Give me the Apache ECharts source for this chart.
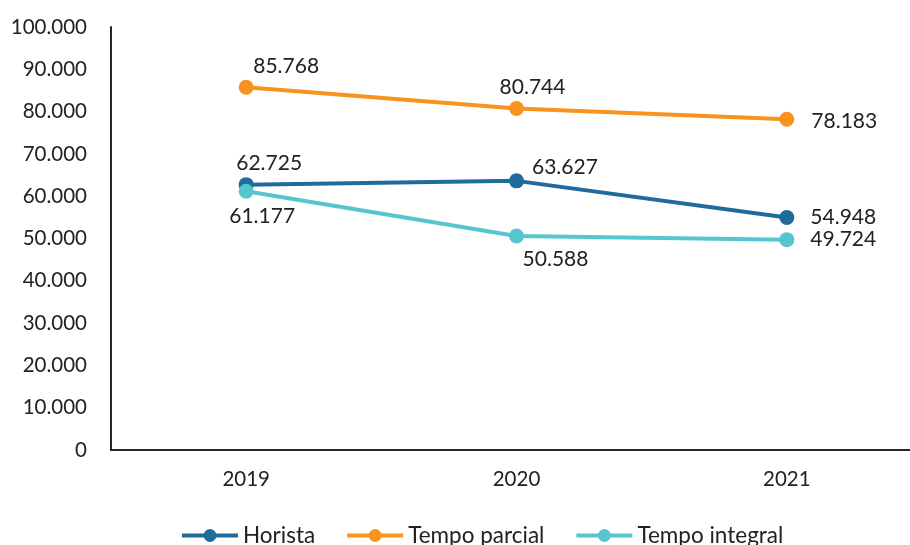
<!DOCTYPE html>
<html>
<head>
<meta charset="utf-8">
<script src="https://cdn.jsdelivr.net/npm/echarts@6/dist/echarts.min.js"></script>
<style>
  html, body { margin: 0; padding: 0; background: #fff; }
  #chart-container { width: 910px; height: 545px; }
</style>
</head>
<body>
<div id="chart-container"></div>
<script>
var anos = ['2019', '2020', '2021'];
var horista = [62725, 63627, 54948];
var tempoParcial = [85768, 80744, 78183];
var tempoIntegral = [61177, 50588, 49724];
var yTicks = [0, 10000, 20000, 30000, 40000, 50000, 60000, 70000, 80000, 90000, 100000];

// label placement per point
var posHorista = [
  { position: 'top', offset: [23, 2] },
  { position: 'right', distance: 8, offset: [0, -14] },
  { position: 'right', distance: 16, offset: [0, 0] }
];
var posParcial = [
  { position: 'top', offset: [40, 2] },
  { position: 'top', offset: [16, 2] },
  { position: 'right', distance: 17, offset: [0, 2] }
];
var posIntegral = [
  { position: 'bottom', offset: [16, 2] },
  { position: 'bottom', offset: [39, 0] },
  { position: 'right', distance: 16, offset: [0, 0] }
];

function fmt(v) {
  return String(v).replace(/\B(?=(\d{3})+(?!\d))/g, '.');
}

function pontos(vals, pos) {
  return vals.map(function(v, i) {
    return { value: v, label: pos[i] };
  });
}

var fonte = 'Lato, "Noto Sans", sans-serif';

function serie(nome, vals, pos, cor) {
  return {
    name: nome,
    type: 'line',
    data: pontos(vals, pos),
    symbol: 'circle',
    symbolSize: 15,
    lineStyle: { width: 4, color: cor },
    itemStyle: { color: cor },
    label: {
      show: true,
      color: '#222',
      fontSize: 21,
      fontFamily: fonte,
      formatter: function(p) { return fmt(p.value); }
    },
    emphasis: { disabled: true }
  };
}

var myChart = echarts.init(document.getElementById('chart-container'));

var option = {
  animation: false,
  textStyle: { fontFamily: fonte },
  legend: {
    data: ['Horista', 'Tempo parcial', 'Tempo integral'],
    left: 175,
    top: 519,
    itemWidth: 56,
    itemHeight: 16,
    itemGap: 30,
    lineStyle: { width: 4 },
    textStyle: { fontSize: 22.5, color: '#222', fontFamily: fonte }
  },
  grid: { left: 111, top: 27, width: 811, bottom: 95, outerBoundsMode: 'none' },
  xAxis: {
    type: 'category',
    data: anos,
    boundaryGap: true,
    axisLine: { lineStyle: { color: '#262626', width: 2 } },
    axisTick: { show: false },
    axisLabel: { fontSize: 20.5, color: '#222', margin: 19, fontFamily: fonte }
  },
  yAxis: {
    type: 'value',
    min: yTicks[0],
    max: yTicks[yTicks.length - 1],
    interval: 10000,
    axisLine: { show: true, lineStyle: { color: '#262626', width: 2 } },
    axisTick: { show: false },
    splitLine: { show: false },
    axisLabel: { fontSize: 20.5, color: '#222', margin: 24, fontFamily: fonte, formatter: fmt }
  },
  series: [
    serie('Horista', horista, posHorista, '#1f6b9b'),
    serie('Tempo parcial', tempoParcial, posParcial, '#f7931e'),
    serie('Tempo integral', tempoIntegral, posIntegral, '#56c5cf')
  ]
};

myChart.setOption(option);
</script>
</body>
</html>
